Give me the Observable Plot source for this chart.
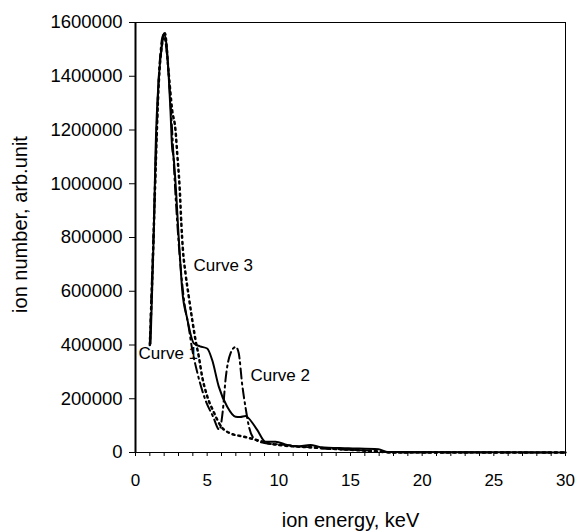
<!DOCTYPE html>
<html>
<head>
<meta charset="utf-8">
<script src="https://cdn.jsdelivr.net/npm/d3@7"></script>
<script src="https://cdn.jsdelivr.net/npm/@observablehq/plot@0.6"></script>
<style>
  body { margin: 0; background: #fff; }
  #chart { width: 576px; height: 532px; }
</style>
</head>
<body>
<div id="chart"></div>
<script>
// Curve 1 (solid)
const energy1 = [1.05, 1.16, 1.28, 1.40, 1.63, 1.86, 1.97, 2.16, 2.32, 2.44, 2.56, 2.63, 3.07, 3.26, 3.6, 4.07, 4.5, 5.0, 5.35, 5.81, 6.4, 6.98, 7.3, 7.68, 7.9, 8.49, 9.07, 9.77, 10.58, 11.28, 12.2, 12.9, 14.86, 16.95, 17.6, 30];
const counts1 = [406000, 604000, 827000, 1124000, 1397000, 1520000, 1558000, 1520000, 1397000, 1273000, 1130000, 1110000, 753000, 604000, 500000, 406000, 395000, 387000, 344000, 245000, 170000, 133000, 132000, 136000, 127000, 84000, 40000, 40000, 28000, 22000, 28000, 20000, 16000, 12000, 2000, 0];

// Curve 2 (dash-dot)
const energy2 = [1.0, 1.15, 1.3, 1.45, 1.65, 1.95, 2.2, 2.5, 2.8, 3.1, 3.4, 3.7, 3.95, 4.3, 4.88, 5.4, 5.85, 6.1, 6.28, 6.63, 7.0, 7.2, 7.45, 7.67, 7.9, 8.3, 9.0, 10, 11, 12, 13, 15, 17, 18, 30];
const counts2 = [406000, 650000, 880000, 1150000, 1420000, 1555000, 1480000, 1250000, 950000, 720000, 560000, 470000, 385000, 300000, 195000, 135000, 85000, 160000, 270000, 369000, 393000, 370000, 250000, 170000, 100000, 50000, 35000, 30000, 25000, 20000, 15000, 10000, 5000, 0, 0];

// Curve 3 (dotted)
const energy3 = [1.0, 1.2, 1.4, 1.6, 1.85, 2.05, 2.3, 2.56, 2.79, 2.91, 3.09, 3.2, 3.3, 3.49, 3.72, 3.96, 4.19, 4.42, 4.65, 5.0, 5.46, 5.93, 6.63, 7.56, 8.49, 9.5, 10.5, 12, 13.5, 15, 16.5, 18, 30];
const counts3 = [400000, 700000, 1050000, 1350000, 1520000, 1560000, 1420000, 1273000, 1199000, 1113000, 976000, 850000, 760000, 666000, 579000, 493000, 418000, 356000, 282000, 210000, 150000, 100000, 71000, 59000, 46000, 32000, 25000, 20000, 15000, 10000, 5000, 0, 0];

const curveNames = ["Curve 1", "Curve 2", "Curve 3"];
const labelX = [0.21, 8.02, 4.05];
const labelY = [370000, 288000, 697000];

const xTicks = d3.range(0, 31, 1);
const yTicks = d3.range(0, 1600001, 200000);

const toRows = (xs, ys) => xs.map((x, i) => ({x, y: ys[i]}));
const c1 = toRows(energy1, counts1);
const c2 = toRows(energy2, counts2);
const c3 = toRows(energy3, counts3);
const labels = curveNames.map((t, i) => ({t, x: labelX[i], y: labelY[i]}));

const chart = Plot.plot({
  width: 576,
  height: 532,
  marginLeft: 135,
  marginRight: 11,
  marginTop: 22,
  marginBottom: 80,
  style: {fontFamily: "Arial, 'Liberation Sans', sans-serif", fontSize: "17px", color: "#000", background: "#fff"},
  x: {domain: [0, 30]},
  y: {domain: [0, 1600000]},
  marks: [
    Plot.frame({stroke: "#000", strokeWidth: 1}),
    Plot.ruleX([0], {stroke: "#000", strokeWidth: 2}),
    Plot.axisX({ticks: xTicks, tickFormat: d => d % 5 === 0 ? String(d) : "", tickSize: 4, tickPadding: 17, label: null, stroke: "#000", fontSize: 17}),
    Plot.axisY({ticks: yTicks, tickFormat: d => String(d), tickSize: 6, tickPadding: 7, label: null, stroke: "#000", fontSize: 18.5}),
    Plot.line(c3, {x: "x", y: "y", stroke: "#000", strokeWidth: 2.5, strokeDasharray: "2,4", curve: "monotone-x"}),
    Plot.line(c2, {x: "x", y: "y", stroke: "#000", strokeWidth: 2, strokeDasharray: "10,4,2,4", curve: "monotone-x"}),
    Plot.line(c1, {x: "x", y: "y", stroke: "#000", strokeWidth: 2, curve: "monotone-x"}),
    Plot.text(labels, {x: "x", y: "y", text: "t", textAnchor: "start", fontSize: 17, fill: "#000"}),
    Plot.text(["ion energy, keV"], {frameAnchor: "bottom", dy: 74, fontSize: 20, fill: "#000"}),
    Plot.text(["ion number, arb.unit"], {frameAnchor: "left", textAnchor: "middle", dx: -115, dy: -13, rotate: -90, fontSize: 20, fill: "#000"})
  ]
});
document.getElementById("chart").appendChild(chart);
</script>
</body>
</html>
